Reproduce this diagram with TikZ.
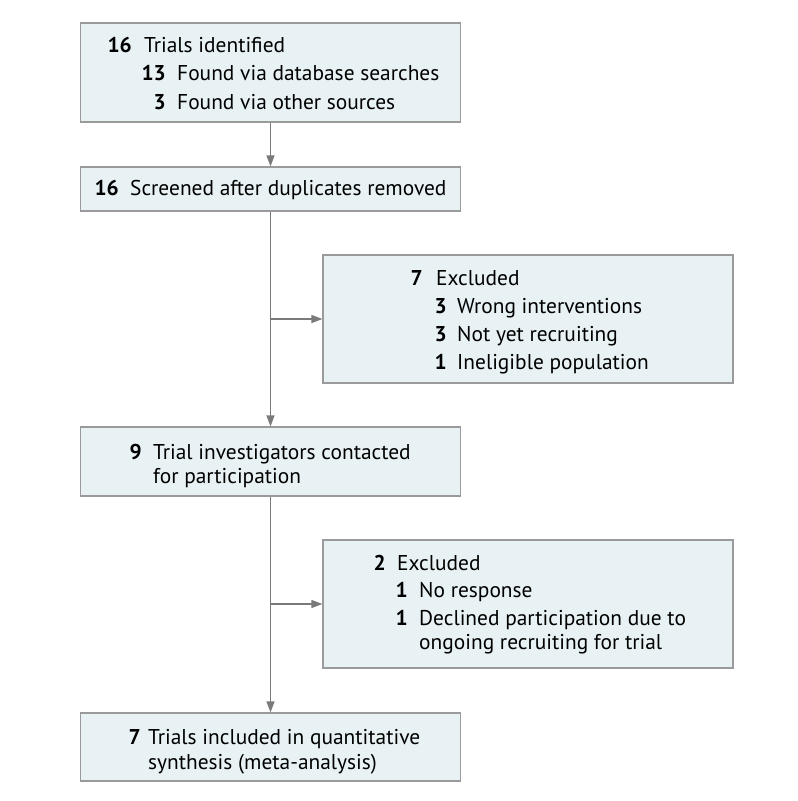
\documentclass[tikz,border=0pt]{standalone}
\usepackage{fontspec}
\setmainfont{PT Sans}
\usetikzlibrary{arrows.meta}
\definecolor{boxfill}{HTML}{E8F2F4}
\definecolor{boxline}{HTML}{9A9A9A}
\definecolor{arrowc}{HTML}{7A7A7A}
\begin{document}
\begin{tikzpicture}[x=1pt,y=-1pt,
  box/.style={draw=boxline,fill=boxfill,line width=1.2pt,inner sep=0pt,rectangle},
  num/.style={anchor=base east,inner sep=0pt,font=\fontsize{21.4}{25}\selectfont\bfseries},
  txt/.style={anchor=base west,inner sep=0pt,font=\fontsize{21.4}{25}\selectfont},
  conn/.style={draw=arrowc,line width=1.2pt},
  arr/.style={conn,-{Triangle[length=11pt,width=8pt]}}]
\useasboundingbox (0,0) rectangle (798,801);
% boxes
\node[box,minimum width=380pt,minimum height=99pt] (b1) at (270.5,72.5) {};
\node[box,minimum width=380pt,minimum height=44pt] (b2) at (270.5,189) {};
\node[box,minimum width=410pt,minimum height=128pt] (b3) at (528,319) {};
\node[box,minimum width=380pt,minimum height=69pt] (b4) at (270.5,461.5) {};
\node[box,minimum width=410pt,minimum height=128pt] (b5) at (528,604) {};
\node[box,minimum width=380pt,minimum height=68pt] (b6) at (270.5,747) {};
% texts box1
\node[num] (n11) at (132,52.3) {16};
\node[txt] (t11) at (144,52.3) {Trials identified};
\node[num] (n12) at (166,80.7) {13};
\node[txt] (t12) at (177,80.7) {Found via database searches};
\node[num] (n13) at (166,109) {3};
\node[txt] (t13) at (177,109) {Found via other sources};
% box2
\node[num] (n21) at (119,195) {16};
\node[txt] (t21) at (130,195) {Screened after duplicates removed};
% box3
\node[num] (n31) at (423,285) {7};
\node[txt] (t31) at (436,285) {Excluded};
\node[num] (n32) at (447,313.3) {3};
\node[txt] (t32) at (457,313.3) {Wrong interventions};
\node[num] (n33) at (447,341) {3};
\node[txt] (t33) at (457,341) {Not yet recruiting};
\node[num] (n34) at (447,369) {1};
\node[txt] (t34) at (457,369) {Ineligible population};
% box4
\node[num] (n41) at (142,459.3) {9};
\node[txt] (t41) at (153,459.3) {Trial investigators contacted};
\node[txt] (t42) at (153,483.3) {for participation};
% box5
\node[num] (n51) at (386,570) {2};
\node[txt] (t51) at (397,570) {Excluded};
\node[num] (n52) at (408,597.3) {1};
\node[txt] (t52) at (419,597.3) {No response};
\node[num] (n53) at (408,625.3) {1};
\node[txt] (t53) at (419,625.3) {Declined participation due to};
\node[txt] (t54) at (419,649.3) {ongoing recruiting for trial};
% box6
\node[num] (n61) at (141,744.3) {7};
\node[txt] (t61) at (148,744.3) {Trials included in quantitative};
\node[txt] (t62) at (148,769.3) {synthesis (meta-analysis)};
% connectors
\coordinate (j1) at (b2.south |- b3.west);
\coordinate (j2) at (b4.south |- b5.west);
\draw[arr] (b1.south) -- (b2.north);
\draw[arr] (b2.south) -- (b4.north);
\draw[arr] (j1) -- (b3.west);
\draw[arr] (b4.south) -- (b6.north);
\draw[arr] (j2) -- (b5.west);
\end{tikzpicture}
\end{document}
